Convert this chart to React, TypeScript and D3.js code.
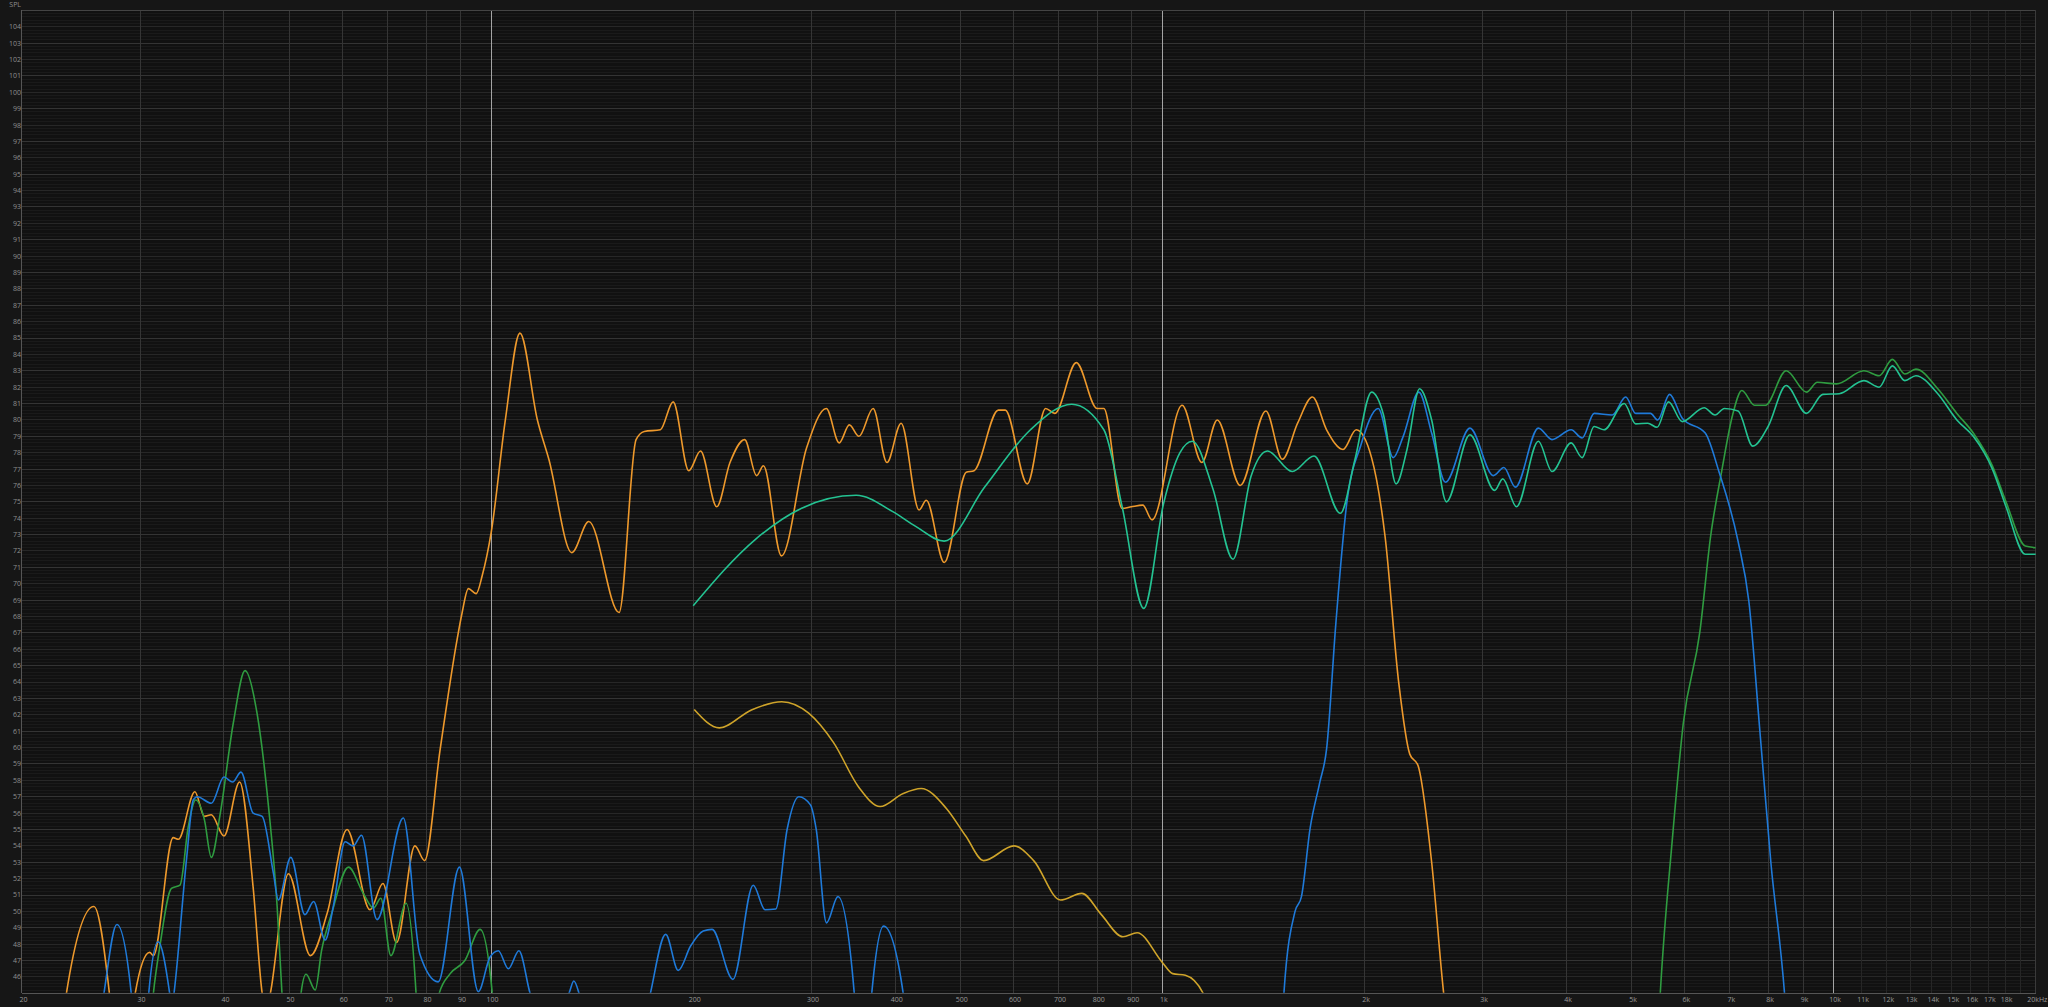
import React, { useEffect, useRef } from "react";
import * as d3 from "d3";

// frequency ticks along the bottom
const tickHz = [20, 30, 40, 50, 60, 70, 80, 90, 100, 200, 300, 400, 500, 600, 700, 800, 900,
    1000, 2000, 3000, 4000, 5000, 6000, 7000, 8000, 9000, 10000, 11000, 12000, 13000, 14000,
    15000, 16000, 17000, 18000, 20000];
const tickLabels = ["20", "30", "40", "50", "60", "70", "80", "90", "100", "200", "300", "400", "500",
    "600", "700", "800", "900", "1k", "2k", "3k", "4k", "5k", "6k", "7k", "8k", "9k", "10k", "11k",
    "12k", "13k", "14k", "15k", "16k", "17k", "18k", "20kHz"];
const extraGridHz = [19000];

// null = break in the trace (it runs below the 45 dB floor there)
const orangeHz = [22.5, 23.3, 25.6, 27.0, 27.6, null,
    29.0, 29.5, 31.0, 31.4, 33.6, 34.2, 36.2, 37.4, 38.3, 40.0, 42.2, 44.2, 45.6, 46.2, 46.9,
    49.9, 53.8, 57.0, 61.0, 66.0, 69.0, 72.3, 77.0, 79.6, 83.9, 88.9, 90.5, 92.5, 95, 97, 100,
    105, 110.4, 117.2, 121.9, 131.9, 139.8, 155.1, 164.4, 169.1, 178.7, 186.7, 197, 205.1, 216.8,
    226.9, 238.6, 248.6, 254.5, 270.7, 295.1, 315.7, 330, 341.7, 353.1, 370.7, 388.7, 408.1, 434,
    444.9, 473.2, 510.2, 524.1, 569.6, 583.3, 629, 669.9, 691.4, 744.3, 799, 818, 871, 899, 935,
    965, 1070, 1145, 1207, 1306, 1426, 1509, 1590, 1673, 1756, 1858, 1944, 2049, 2146, 2250,
    2336, 2403, 2518, 2624, 2700];
const orangeDb = [40, 45, 50.3, 45, 41, null,
    41, 45, 47.5, 47.3, 54.5, 54.4, 57.3, 55.8, 55.9, 54.6, 57.9, 51.5, 45, 43.8, 45,
    52.3, 47.3, 49.9, 55.0, 50.1, 51.7, 48.1, 54.0, 53.1, 59.8, 66.5, 68.2, 69.7, 69.4, 70.5, 73.1,
    80.0, 85.3, 80.0, 77.6, 71.9, 73.8, 68.25, 78.8, 79.3, 79.4, 81.1, 76.9, 78.1, 74.7,
    77.4, 78.8, 76.6, 77.2, 71.7, 78.3, 80.7, 78.6, 79.7, 79.0, 80.7, 77.4, 79.8, 74.5,
    75.1, 71.3, 76.8, 76.9, 80.6, 80.6, 76.1, 80.7, 80.4, 83.5, 80.7, 80.7, 74.6, 74.7, 74.8,
    73.9, 80.9, 77.4, 80.0, 76.0, 80.55, 77.6, 79.8, 81.4, 79.4, 78.2, 79.4, 77.7, 72.9, 63.9,
    59.6, 58.9, 53.0, 45, 41];

const blueHz = [25.5, 26.5, 27.7, 29.1, 29.6, null,
    30.4, 30.9, 31.9, 33.2, 33.45, 33.7, 35.2, 36.0, 36.5, 38.3, 40.0, 41.2, 42.4, 44.2, 45.6,
    47.4, 48.2, 50.3, 52.8, 54.4, 56.6, 58.2, 60.6, 62.3, 64.1, 67.6, 74.0, 78.3, 83.4, 89.7,
    95.7, 99.6, 102.5, 106.1, 110.0, 114.3, 121, 128, 130.6, 132.8, 135.2, 138, 150, null,
    165, 172.7, 182, 190, 198.3, 207, 213.4, 229.2, 245.7, 255.9, 265.5, 276, 287.4, 299, 305,
    315.9, 328.6, 347.5, 352, null,
    364, 369, 384.3, 411, 416, null,
    1500, 1517, 1576, 1611, 1660, 1714, 1756, 1813, 1883, 1973, 2096, 2208, 2284, 2410, 2518,
    2640, 2871, 3112, 3226, 3355, 3631, 3805, 4063, 4219, 4397, 4677, 4900, 5070, 5335, 5467,
    5695, 5948, 6436, 6745, 7202, 7476, 7763, 8060, 8447, 8550];
const blueDb = [40, 45, 49.2, 45, 41, null,
    41, 45, 48.15, 45, 44, 45, 53.3, 56.8, 57.0, 56.6, 58.2, 57.9, 58.5, 56.0, 55.8,
    52.3, 50.7, 53.3, 49.8, 50.6, 48.25, 50.3, 54.25, 54.0, 54.65, 49.5, 55.7, 47.4, 45.7, 52.7,
    45.1, 47.2, 47.6, 46.5, 47.6, 45, 42.5, 44.5, 45, 45.75, 45, 43.5, 41, null,
    41, 45, 48.6, 46.4, 47.9, 48.8, 48.9, 45.85, 51.6, 50.1, 50.15, 55.0, 57.0, 56.5, 55.0,
    49.3, 50.9, 45, 42, null,
    42, 45, 49.1, 45, 42, null,
    41, 45, 50.0, 50.9, 55.1, 57.8, 59.9, 67.6, 75.0, 78.4, 80.7, 77.7, 79.0, 81.7, 79.2,
    76.2, 79.5, 76.6, 77.1, 75.9, 79.5, 78.8, 79.4, 78.9, 80.4, 80.3, 81.4, 80.4, 80.4, 80.0,
    81.56, 80.1, 79.2, 76.85, 72.6, 68.9, 61.0, 53.0, 45, 42];

const greenHz = [30.8, 31.4, 32.1, 33.4, 34.4, 35.4, 36.3, 37.4, 38.3, 39.5, 41.3, 43.0, 44.8,
    46.6, 48.0, 48.8, 49.3, null,
    51.5, 52.1, 53.0, 54.7, 55.9, 57.9, 61.3, 64.5, 66.8, 68.5, 70.9, 74.7, 77.3, 78, null,
    83, 83.7, 86.9, 91.4, 96.3, 100.4, 101.5, null,
    5450, 5516, 5749, 5970, 6318, 6556, 6808, 7069, 7298, 7620, 7911, 8495, 9106, 9454, 10095,
    11090, 11687, 12228, 12763, 13255, 14289, 15256, 16140, 17233, 18058, 19290, 20000];
const greenDb = [41, 45, 47.85, 51.4, 51.6, 55.2, 56.8, 55.6, 53.3, 56.0, 61.5, 64.7, 62.1,
    56.4, 50.3, 45, 42, null,
    42, 45, 46.16, 45.2, 47.6, 49.9, 52.7, 51.1, 50.2, 50.8, 47.3, 50.5, 45, 42, null,
    42, 45, 46.2, 47.0, 48.9, 45, 42, null,
    41, 45, 54.4, 61.5, 67.06, 72.9, 76.85, 80.3, 81.8, 80.9, 80.9, 83.0, 81.7, 82.3, 82.2,
    83.0, 82.7, 83.7, 82.8, 83.1, 81.9, 80.4, 79.2, 77.2, 75.0, 72.3, 72.2];

const tealHz = [200, 247.4, 289.6, 349.8, 396.6, 429, 473, 543.5, 636, 732.6, 818, 871, 938, 1004,
    1062, 1108, 1189, 1274, 1356, 1434, 1561, 1682, 1841, 1936, 2049, 2135, 2229, 2314, 2416,
    2518, 2649, 2871, 3125, 3214, 3368, 3631, 3805, 4063, 4219, 4397, 4548, 4874, 5070, 5284,
    5456, 5674, 5948, 6412, 6656, 6872, 7202, 7577, 7985, 8495, 9106, 9634, 10190, 11090, 11687,
    12228, 12763, 13255, 14289, 15256, 16140, 17233, 18058, 19290, 20000];
const tealDb = [68.66, 72.7, 74.6, 75.4, 74.4, 73.5, 72.6, 75.9, 79.4, 80.96, 79.4, 74.7, 68.5, 74.9,
    78.0, 78.7, 75.8, 71.5, 76.6, 78.1, 76.85, 77.8, 74.3, 77.6, 81.7, 80.3, 76.1, 78.2, 81.9,
    80.0, 75.0, 79.1, 75.7, 76.4, 74.7, 78.7, 76.85, 78.6, 77.7, 79.6, 79.4, 81.0, 79.76, 79.8,
    79.55, 81.1, 79.9, 80.74, 80.3, 80.7, 80.55, 78.4, 79.6, 82.1, 80.4, 81.56, 81.6, 82.4, 82.0,
    83.3, 82.4, 82.7, 81.6, 80.0, 79.0, 77.0, 74.7, 71.8, 71.8];

const yellowHz = [200.7, 218.8, 244.2, 271, 297.2, 323.7, 352.7, 379.7, 411, 437.1, 476.3, 509.4,
    541.7, 600.8, 643, 704.8, 758.5, 811, 873.4, 917, 999, 1036, 1082, 1150, 1200];
const yellowDb = [62.32, 61.2, 62.3, 62.8, 62.1, 60.3, 57.6, 56.4, 57.2, 57.5, 56.3, 54.6,
    53.1, 54.0, 53.1, 50.7, 51.1, 49.8, 48.45, 48.7, 46.9, 46.2, 46.1, 45, 43];

const W = 2048;
const H = 1007;

export default function App() {
    const ref = useRef<SVGSVGElement>(null);

    useEffect(() => {
        const svg = d3.select(ref.current);
        svg.selectAll("*").remove();

        const x = d3.scaleLog().domain([20, 20000]).range([21.9, 2035.8]);
        const y = d3.scaleLinear().domain([45, 105]).range([993.3, 10.4]);
        const x0 = x(20), x1 = x(20000), y0 = y(105), y1 = y(45);
        const font = "'Open Sans', 'DejaVu Sans', sans-serif";

        svg.append("rect").attr("width", W).attr("height", H).attr("fill", "#161616");
        svg.append("rect")
            .attr("x", x0).attr("y", y0)
            .attr("width", x1 - x0).attr("height", y1 - y0)
            .attr("fill", "#111111");

        const grid = svg.append("g").attr("shape-rendering", "crispEdges");

        // horizontal grid: 0.2 dB minor, 1 dB, 2 dB
        d3.range(0, 301).forEach(i => {
            const db = 45 + i * 0.2;
            const major = i % 10 === 0;
            const mid = i % 5 === 0;
            grid.append("line")
                .attr("x1", x0).attr("x2", x1)
                .attr("y1", y(db)).attr("y2", y(db))
                .attr("stroke", major ? "#343434" : mid ? "#272727" : "#1a1a1a")
                .attr("stroke-width", 1);
        });

        // vertical grid
        [...tickHz, ...extraGridHz].forEach(f => {
            const bright = f === 100 || f === 1000 || f === 10000;
            const faint = f > 10000 && f < 20000;
            grid.append("line")
                .attr("x1", x(f)).attr("x2", x(f))
                .attr("y1", y0).attr("y2", y1)
                .attr("stroke", bright ? "#a4a4a4" : faint ? "#262626" : "#353535")
                .attr("stroke-width", 1);
        });

        // frame
        grid.append("line").attr("x1", x0).attr("x2", x1).attr("y1", y0).attr("y2", y0).attr("stroke", "#444");
        grid.append("line").attr("x1", x0).attr("x2", x1).attr("y1", y1).attr("y2", y1).attr("stroke", "#555");
        grid.append("line").attr("x1", x0).attr("x2", x0).attr("y1", y0).attr("y2", y1).attr("stroke", "#555");
        grid.append("line").attr("x1", x1).attr("x2", x1).attr("y1", y0).attr("y2", y1).attr("stroke", "#3a3a3a");

        // y labels
        const yLabels = svg.append("g")
            .attr("font-family", font).attr("font-size", 7).attr("fill", "#8e8e8e")
            .attr("text-anchor", "end");
        d3.range(46, 105).forEach(db => {
            yLabels.append("text")
                .attr("x", 21).attr("y", y(db))
                .attr("dy", "0.35em")
                .text(String(db));
        });
        yLabels.append("text").attr("x", 21).attr("y", 7).text("SPL");

        // x labels
        const xLabels = svg.append("g")
            .attr("font-family", font).attr("font-size", 7).attr("fill", "#9a9a9a")
            .attr("text-anchor", "middle");
        tickHz.forEach((f, i) => {
            xLabels.append("text")
                .attr("x", x(f) + 1.5).attr("y", 1002)
                .text(tickLabels[i]);
        });

        svg.append("clipPath").attr("id", "plotClip")
            .append("rect")
            .attr("x", x0).attr("y", y0)
            .attr("width", x1 - x0).attr("height", y1 - y0 - 0.5);

        const line = d3.line<[number | null, number | null]>()
            .defined(d => d[1] !== null && d[0] !== null)
            .x(d => x(d[0] as number))
            .y(d => y(d[1] as number))
            .curve(d3.curveMonotoneX);

        const series = [
            { hz: yellowHz, db: yellowDb, color: "#cfa42a" },
            { hz: orangeHz, db: orangeDb, color: "#ee992c" },
            { hz: greenHz, db: greenDb, color: "#2f9c40" },
            { hz: blueHz, db: blueDb, color: "#1f7ad9" },
            { hz: tealHz, db: tealDb, color: "#24c392" },
        ];

        const curves = svg.append("g").attr("clip-path", "url(#plotClip)");
        series.forEach(s => {
            const pts = s.hz.map((h, i) => [h, s.db[i]] as [number | null, number | null]);
            curves.append("path")
                .attr("d", line(pts))
                .attr("fill", "none")
                .attr("stroke", s.color)
                .attr("stroke-width", 1.6)
                .attr("stroke-linejoin", "round");
        });
    }, []);

    return (
        <>
            <style>{`body{margin:0;background:#161616;overflow:hidden}`}</style>
            <svg ref={ref} width={W} height={H} style={{ display: "block" }} />
        </>
    );
}
